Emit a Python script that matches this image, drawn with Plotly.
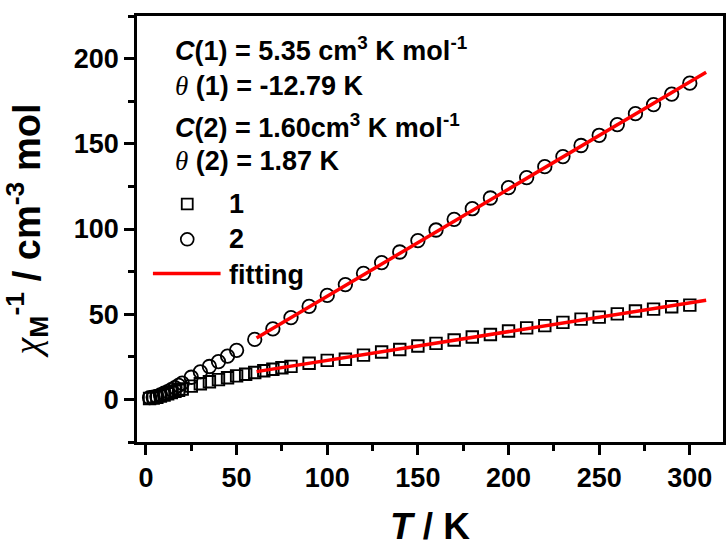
import plotly.graph_objects as go

# ---- data ----
T1 = [2, 4, 6, 8, 10, 12, 14, 16, 18, 20, 25, 30, 35, 40, 45, 50, 55, 60, 65, 70, 75, 80,
      90, 100, 110, 120, 130, 140, 150, 160, 170, 180, 190, 200, 210, 220, 230, 240, 250,
      260, 270, 280, 290, 300]
Y1 = [0.5, 0.8, 1.3, 1.9, 2.6, 3.3, 4.0, 4.7, 5.4, 6.1, 7.8, 9.2, 10.4, 11.6, 12.7, 13.8,
      14.8, 15.8, 16.8, 17.7, 18.6, 19.4, 21.2, 22.9, 23.6, 26.0, 27.8, 29.3, 31.3, 32.9,
      34.9, 36.6, 38.1, 40.1, 42.0, 43.3, 45.2, 47.1, 48.3, 50.2, 51.9, 53.0, 54.4, 55.3]

T2 = [2, 4, 6, 8, 10, 12, 14, 16, 18, 20, 25, 30, 35, 40, 45, 50, 60, 70, 80, 90, 100,
      110, 120, 130, 140, 150, 160, 170, 180, 190, 200, 210, 220, 230, 240, 250, 260, 270,
      280, 290, 300]
Y2 = [1.0, 1.3, 1.8, 2.7, 3.6, 4.6, 5.7, 6.9, 8.2, 9.6, 13.0, 16.2, 19.3, 22.2, 25.4, 28.8,
      35.2, 41.4, 48.0, 54.6, 61.0, 67.4, 74.0, 80.3, 86.5, 93.2, 99.4, 105.7, 111.9, 118.2,
      124.3, 130.2, 136.6, 142.5, 149.0, 155.0, 161.3, 167.7, 173.0, 179.2, 185.6]

fit1_T = [61, 309]
fit1_Y = [16.3, 58.2]
fit2_T = [61, 309]
fit2_Y = [36.0, 192.0]

x_ticks = [0, 50, 100, 150, 200, 250, 300]
y_ticks = [0, 50, 100, 150, 200]

GREEK = "<span style=\"font-family:'Liberation Serif',serif;font-weight:normal\"><i>{}</i></span>"
param_lines = [
    "<i>C</i>(1) = 5.35 cm<sup>3</sup> K mol<sup>-1</sup>",
    GREEK.format("θ") + " (1) = -12.79 K",
    "<i>C</i>(2) = 1.60cm<sup>3</sup> K mol<sup>-1</sup>",
    GREEK.format("θ") + " (2) = 1.87 K",
]
legend_labels = ["1", "2", "fitting"]
x_title = "<i>T</i> / K"
y_title = GREEK.format("χ") + "<sub>M</sub><sup>-1</sup> / cm<sup>-3</sup> mol"

# ---- figure ----
W, H = 728, 547
ML, MR, MT, MB = 137, 2, 16, 96
FONT = "Liberation Sans, Arial, sans-serif"


def px(xp):
    return (xp - ML) / (W - ML - MR)


def py(yp):
    return 1 - (yp - MT) / (H - MT - MB)


fig = go.Figure()
fig.add_trace(go.Scatter(x=T1, y=Y1, mode="markers", name="1",
                         marker=dict(symbol="square-open", size=11.5, color="black",
                                     line=dict(width=1.9, color="black"))))
fig.add_trace(go.Scatter(x=T2, y=Y2, mode="markers", name="2",
                         marker=dict(symbol="circle-open", size=13.5, color="black",
                                     line=dict(width=1.8, color="black"))))
fig.add_trace(go.Scatter(x=fit1_T, y=fit1_Y, mode="lines", name="fitting",
                         line=dict(color="#ff0000", width=3.5)))
fig.add_trace(go.Scatter(x=fit2_T, y=fit2_Y, mode="lines", name="fitting",
                         showlegend=False, line=dict(color="#ff0000", width=3.5)))

axis_common = dict(
    showline=True, linecolor="black", linewidth=2.5, mirror=True,
    ticks="outside", ticklen=10, tickwidth=2.5, tickcolor="black",
    showgrid=False, zeroline=False,
    tickfont=dict(family=FONT, size=27, color="black", weight="bold"),
)

fig.update_xaxes(range=[-4.94, 318.3], tickvals=x_ticks,
                 minor=dict(ticks="outside", ticklen=6, tickwidth=2.5, dtick=25,
                            tick0=0, tickcolor="black"),
                 title=dict(text=x_title, standoff=26,
                            font=dict(family=FONT, size=37, color="black", weight="bold")),
                 **axis_common)
fig.update_yaxes(range=[-25, 225], tickvals=y_ticks,
                 minor=dict(ticks="outside", ticklen=6, tickwidth=2.5, dtick=25,
                            tick0=0, tickcolor="black"),
                 title=dict(text=y_title, standoff=22,
                            font=dict(family=FONT, size=38, color="black", weight="bold")),
                 **axis_common)

ann_y = [50, 87, 128, 164]
for txt, yy in zip(param_lines, ann_y):
    fig.add_annotation(x=px(173), y=py(yy), xref="paper", yref="paper", text=txt,
                       showarrow=False, xanchor="left", yanchor="middle",
                       font=dict(family=FONT, size=27, color="black", weight="bold"))

# manual legend
leg_y = [208, 244, 280]
fig.add_shape(type="rect", xref="paper", yref="paper",
              x0=px(182), x1=px(193), y0=py(213.5), y1=py(202.5),
              line=dict(color="black", width=1.8))
fig.add_shape(type="circle", xref="paper", yref="paper",
              x0=px(181), x1=px(194), y0=py(250.5), y1=py(237.5),
              line=dict(color="black", width=1.7))
fig.add_shape(type="line", xref="paper", yref="paper",
              x0=px(153), x1=px(221), y0=py(279), y1=py(279),
              line=dict(color="#ff0000", width=3.5))
for txt, yy in zip(legend_labels, leg_y):
    fig.add_annotation(x=px(227), y=py(yy), xref="paper", yref="paper", text=txt,
                       showarrow=False, xanchor="left", yanchor="middle",
                       font=dict(family=FONT, size=27, color="black", weight="bold"))

fig.update_layout(width=W, height=H, margin=dict(l=ML, r=MR, t=MT, b=MB),
                  plot_bgcolor="white", paper_bgcolor="white", showlegend=False,
                  font=dict(family=FONT, color="black"))

fig.write_html("out.html")
